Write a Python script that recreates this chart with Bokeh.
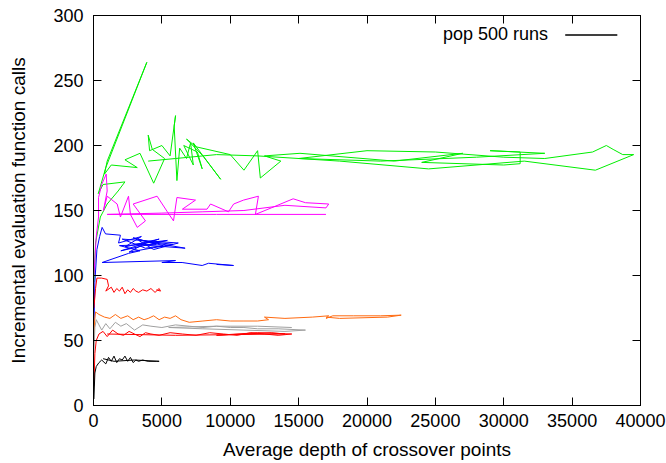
from bokeh.plotting import figure
from bokeh.models import Range1d, LinearAxis, Label, BoxAnnotation
from bokeh.embed import file_html
from bokeh.resources import INLINE

# ---- data ----
black_x = [30, 100, 200, 400, 600, 900, 1100, 1300, 1500, 1700, 1900, 2100, 2300, 2500, 2700, 2900, 3100, 3300, 3600, 4000, 4600, 4800, 3000, 1500, 700]
black_y = [5, 25, 30, 33, 35, 32, 37, 34, 38, 33, 36, 35, 38, 34, 37, 33, 35, 34, 35, 34, 34, 34, 35, 34, 36]

red_lo_x = [30, 100, 200, 400, 700, 1000, 1400, 1800, 2200, 2600, 3000, 3400, 3800, 4200, 4800, 5600, 6500, 7500, 8500, 9500, 10500, 11500, 12500, 13500, 14500, 12000, 9000, 11000, 13000, 14000, 6000, 1000]
red_lo_y = [15, 40, 50, 55, 57, 53, 58, 55, 54, 57, 55, 53, 56, 55, 54, 56, 55, 54, 56, 55, 54, 56, 55, 54, 55, 56, 54, 55, 56, 55, 54, 55]

grey_x = [30, 100, 200, 400, 600, 900, 1200, 1600, 2000, 2400, 3000, 3600, 4200, 5000, 6000, 7000, 8000, 9000, 10000, 11000, 12000, 13500, 15500, 14000, 11000, 8000, 5500, 9000, 12000, 14500]
grey_y = [40, 60, 66, 62, 58, 63, 59, 64, 61, 63, 58, 62, 61, 60, 62, 61, 60, 61, 60, 60, 59, 59, 58, 57, 58, 59, 60, 61, 61, 60]

orange_x = [30, 80, 150, 400, 800, 1200, 1600, 2000, 2500, 2900, 3300, 3700, 4000, 4400, 4800, 5200, 5600, 6000, 6400, 7000, 8000, 9000, 10000, 11000, 12000, 12800, 12500, 14000, 16000, 17200, 17000, 17500, 19000, 20000, 21000, 22500, 21500, 18000, 17000]
orange_y = [50, 65, 72, 70, 68, 67, 70, 67, 69, 66, 68, 66, 67, 69, 66, 68, 67, 69, 66, 64, 65, 66, 65, 65, 65, 66, 68, 67, 68, 69, 67, 69, 69, 69, 69, 69.5, 68, 67, 68]

red_hi_x = [30, 150, 250, 600, 1000, 1100, 900, 1300, 1500, 1700, 1900, 2100, 2300, 2500, 2700, 2900, 3100, 3300, 3600, 3900, 4200, 4500, 4800, 4900, 4600]
red_hi_y = [75, 90, 98, 98, 97, 92, 88, 91, 87, 90, 88, 91, 86, 89, 87, 90, 88, 87, 89, 88, 90, 87, 90, 88, 89]

blue_x = [30, 100, 250, 450, 630, 880, 1970, 1830, 3500, 2300, 4800, 2000, 5400, 3000, 6700, 4000, 2600, 5800, 3300, 4400, 6200, 2100, 3800, 5100, 2900, 4600, 1900, 3400, 2560, 630, 6000, 5000, 6480, 7950, 8410, 10240, 9000]
blue_y = [60, 95, 120, 130, 137, 132, 131, 125, 130, 122, 128, 119, 127, 124, 121, 126, 118, 124, 127, 120, 125, 128, 121, 123, 129, 124, 123, 119, 117, 110, 111.5, 110, 110, 107.7, 109.4, 107.7, 108.5]

magenta_x = [30, 200, 370, 370, 600, 930, 1000, 730, 1000, 1730, 1970, 2560, 2700, 3200, 3800, 2900, 4650, 5400, 5850, 6100, 7460, 6500, 8300, 8560, 9870, 10250, 10970, 12060, 11840, 13000, 14600, 15500, 17200, 17000, 14000, 11000, 8000, 5000, 1000, 9000, 17000]
magenta_y = [100, 130, 145, 160, 170, 178, 165, 150, 161, 155, 145, 161, 147, 137, 142, 155, 161, 149, 142, 160, 158, 151, 151, 155, 149, 155, 158, 161, 147, 152, 159, 156, 155, 152, 154, 150, 149, 148, 147, 147, 147]

green_x = [30, 150, 500, 1000, 1800, 2300, 700, 350, 900, 3900, 1000, 800, 1300, 3200, 2300, 3400, 4400, 5200, 4300, 4000, 4100, 5000, 5600, 6000, 5900, 6100, 6300, 6800, 7100, 7300, 6600, 7600, 7950, 7300, 9300, 8000, 6800, 7500, 10000, 11000, 12000, 12200, 13700, 12500, 15100, 22000, 27000, 24000, 30000, 31200, 31200, 29000, 33000, 28000, 21000, 15000, 20000, 25000, 30000, 33000, 36500, 37500, 38000, 38700, 39500, 36700, 31500, 24500, 18000, 12000, 9000, 6000, 4000]
green_y = [95, 125, 145, 155, 165, 172, 170, 163, 183, 264, 188, 178, 185, 183, 189, 194, 171, 190, 197, 208, 196, 200, 192, 223, 215, 173, 198, 190, 202, 185, 200, 195, 182, 202, 174, 192, 205, 199, 193, 181, 196, 175, 188, 192, 194, 188, 194, 187, 185, 186, 195, 196, 194, 191, 188, 190, 196, 195, 191, 190, 195, 200, 197, 193, 193, 181, 188, 182, 188, 192, 193, 190, 188]

FONT = "Liberation Sans"
X_TICKS = [0, 5000, 10000, 15000, 20000, 25000, 30000, 35000, 40000]
Y_TICKS = [0, 50, 100, 150, 200, 250, 300]

p = figure(width=666, height=463, output_backend="svg", toolbar_location=None,
           x_range=Range1d(0, 40000), y_range=Range1d(0, 300),
           min_border_left=93, min_border_right=26, min_border_top=15, min_border_bottom=58)

series = [
    (green_x, green_y, "#00ee00"),
    (magenta_x, magenta_y, "#ff00ff"),
    (blue_x, blue_y, "#0000ff"),
    (red_hi_x, red_hi_y, "#ff0000"),
    (orange_x, orange_y, "#ff6a10"),
    (grey_x, grey_y, "#a0a0a0"),
    (red_lo_x, red_lo_y, "#ff0000"),
    (black_x, black_y, "#000000"),
]
for xs, ys, c in series:
    p.line(xs, ys, line_color=c, line_width=1)

p.xgrid.visible = False
p.ygrid.visible = False
p.outline_line_color = "black"
p.outline_line_width = 1
p.outline_line_alpha = 1
p.background_fill_color = "white"
p.border_fill_color = "white"

def style_axis(ax, ticks, labels=True):
    ax.ticker = ticks
    ax.major_tick_in = 8
    ax.major_tick_out = 0
    ax.minor_tick_in = 0
    ax.minor_tick_out = 0
    ax.axis_line_color = "black"
    ax.major_tick_line_color = "black"
    ax.major_label_text_font = FONT
    ax.major_label_text_font_size = "18px"
    ax.major_label_text_color = "black"
    ax.axis_label_text_font = FONT
    ax.axis_label_text_font_size = "19px"
    ax.axis_label_text_font_style = "normal"
    ax.axis_label_text_color = "black"
    if not labels:
        ax.major_label_overrides = {t: "" for t in ticks}
        ax.major_label_standoff = 0

style_axis(p.xaxis[0], X_TICKS)
style_axis(p.yaxis[0], Y_TICKS)
p.xaxis[0].axis_label = "Average depth of crossover points"
p.yaxis[0].axis_label = "Incremental evaluation function calls"
p.xaxis[0].major_label_standoff = 8
p.yaxis[0].major_label_standoff = 10
p.xaxis[0].axis_label_standoff = 9
p.yaxis[0].axis_label_standoff = 21

top_ax = LinearAxis()
style_axis(top_ax, X_TICKS, labels=False)
p.add_layout(top_ax, "above")
right_ax = LinearAxis()
style_axis(right_ax, Y_TICKS, labels=False)
p.add_layout(right_ax, "right")

# legend (text left of sample line, gnuplot style)
p.add_layout(Label(x=25550, y=286, text="pop 500 runs", text_font=FONT,
                   text_font_size="18px", text_baseline="middle", text_align="left",
                   text_color="black"))
p.add_layout(BoxAnnotation(left=34500, right=38300, top=285, bottom=285,
                           fill_alpha=0, line_color="black", line_alpha=1, line_width=1))

open("out.html", "w").write(file_html(p, INLINE))
